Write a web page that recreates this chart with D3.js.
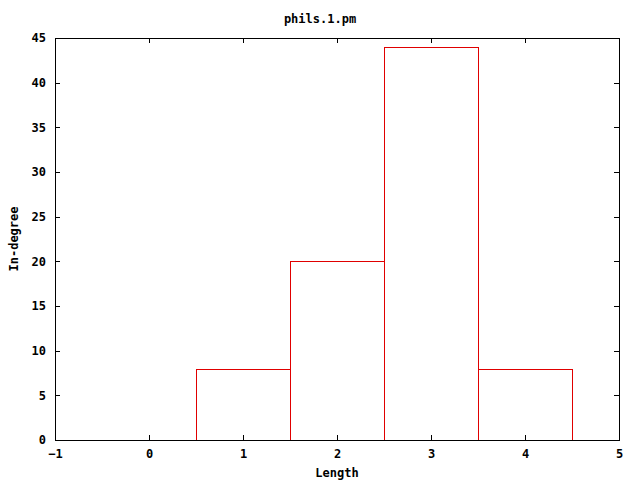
<!DOCTYPE html>
<html><head><meta charset="utf-8">
<script src="https://cdn.jsdelivr.net/npm/d3@7"></script>
<style>body{margin:0;background:#fff}text{font-family:"DejaVu Sans Mono",monospace;font-weight:bold;font-size:12px;fill:#000}</style>
</head><body>
<script>
const categories = [1, 2, 3, 4];
const values = [8, 20, 44, 8];
const xTicks = [-1, 0, 1, 2, 3, 4, 5];
const yTicks = [0, 5, 10, 15, 20, 25, 30, 35, 40, 45];
const title = "phils.1.pm";
const xLabel = "Length";
const yLabel = "In-degree";

const W = 640, H = 480;
const m = {l: 55, r: 619, t: 38, b: 440};
const svg = d3.select("body").append("svg").attr("width", W).attr("height", H);
const x = d3.scaleLinear().domain([-1, 5]).range([m.l, m.r]);
const y = d3.scaleLinear().domain([0, 45]).range([m.b, m.t]);
const tl = 5;

const axBottom = d3.axisBottom(x).tickValues(xTicks).tickSize(-tl).tickPadding(9).tickFormat(d3.format("d"));
const axTop = d3.axisTop(x).tickValues(xTicks).tickSize(-tl).tickFormat("");
const axLeft = d3.axisLeft(y).tickValues(yTicks).tickSize(-tl).tickPadding(9).tickFormat(d3.format("d"));
const axRight = d3.axisRight(y).tickValues(yTicks).tickSize(-tl).tickFormat("");

function style(g){ g.select(".domain").remove(); g.selectAll("line").attr("stroke","#000").attr("shape-rendering","crispEdges"); g.selectAll("text").attr("font-size",12).attr("font-family",'"DejaVu Sans Mono",monospace').attr("font-weight","bold"); }
svg.append("g").attr("transform",`translate(0,${m.b})`).call(axBottom).call(style);
svg.append("g").attr("transform",`translate(0,${m.t})`).call(axTop).call(style);
svg.append("g").attr("transform",`translate(${m.l},0)`).call(axLeft).call(style);
svg.append("g").attr("transform",`translate(${m.r},0)`).call(axRight).call(style);

svg.append("g").selectAll("rect").data(categories).join("rect")
  .attr("x", d => Math.round(x(d - 0.5)) + 0.5)
  .attr("width", d => Math.round(x(d + 0.5)) - Math.round(x(d - 0.5)))
  .attr("y", (d,i) => Math.round(y(values[i])) + 0.5)
  .attr("height", (d,i) => m.b - Math.round(y(values[i])))
  .attr("fill", "none").attr("stroke", "#e00000").attr("stroke-width", 1);

svg.append("rect").attr("x", m.l + 0.5).attr("y", m.t + 0.5).attr("width", m.r - m.l).attr("height", m.b - m.t)
  .attr("fill","none").attr("stroke","#000").attr("stroke-width",1);

svg.append("text").attr("x", 320).attr("y", 23).attr("text-anchor","middle").text(title);
svg.append("text").attr("x", (m.l + m.r) / 2).attr("y", 477).attr("text-anchor","middle").text(xLabel);
svg.append("text").attr("transform", `translate(18,${(m.t + m.b) / 2}) rotate(-90)`).attr("text-anchor","middle").text(yLabel);
</script>
</body></html>
